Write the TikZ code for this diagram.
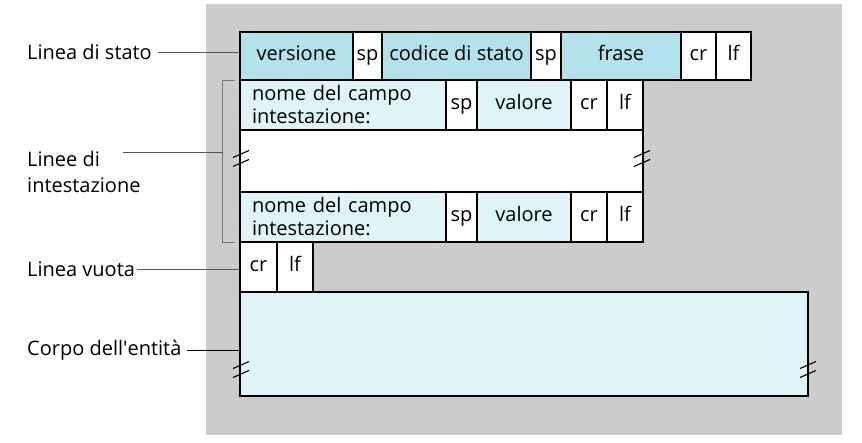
\documentclass[tikz,border=0pt]{standalone}
\usepackage{fontspec}
\setmainfont{Open Sans}
\usetikzlibrary{positioning, calc}
\definecolor{statblue}{HTML}{B3E1EC}
\definecolor{hdrblue}{HTML}{E0F3F7}
\definecolor{bggray}{HTML}{CCCCCC}
\definecolor{connGray}{HTML}{555555}
\definecolor{brackGray}{HTML}{777777}

\tikzset{
  cell/.style={draw, line width=1.1pt, inner sep=0pt, outer sep=0pt, font=\fontsize{20}{23}\selectfont},
  txt/.style={text height=14.5pt, text depth=4.5pt},
  statcell/.style={cell, txt, fill=statblue, minimum height=48pt},
  statsep/.style={cell, txt, fill=white, minimum height=48pt},
  hdrcell/.style={cell, fill=hdrblue, minimum height=50pt},
  hdrsep/.style={cell, txt, fill=white, minimum height=50pt},
  lbl/.style={inner sep=0pt, anchor=west, font=\fontsize{20}{26}\selectfont, align=left},
  conn/.style={connGray, line width=0.9pt},
  bracket/.style={brackGray, line width=0.8pt},
  brk/.style={line width=1.1pt},
}

\begin{document}
\begin{tikzpicture}[x=1pt, y=-1pt]
   \useasboundingbox (0,0) rectangle (862,443);
   \fill[bggray] (206,4) rectangle (842,435);

   % status line
   \node[statcell, anchor=north west, minimum width=113pt] (versione) at (240,32) {versione};
   \node[statsep, minimum width=29pt, right=0pt of versione] (sp1) {sp};
   \node[statcell, minimum width=149pt, right=0pt of sp1] (codice) {codice di stato};
   \node[statsep, minimum width=30pt, right=0pt of codice] (sp2) {sp};
   \node[statcell, minimum width=120pt, right=0pt of sp2] (frase) {frase};
   \node[statsep, minimum width=35pt, right=0pt of frase] (cr0) {cr};
   \node[statsep, minimum width=35pt, right=0pt of cr0] (lf0) {lf};

   % header lines
   \node[hdrcell, anchor=north west, minimum width=206pt, text width=182pt, inner xsep=12pt, align=left] (nome1) at (versione.south west) {nome del campo\\intestazione:};
   \node[hdrsep, minimum width=31pt, right=0pt of nome1] (sp3) {sp};
   \node[hdrcell, txt, minimum width=94pt, right=0pt of sp3] (valore1) {valore};
   \node[hdrsep, minimum width=36pt, right=0pt of valore1] (cr1) {cr};
   \node[hdrsep, minimum width=36pt, right=0pt of cr1] (lf1) {lf};

   \node[cell, fill=white, anchor=north west, minimum width=403pt, minimum height=62pt] (blank) at (nome1.south west) {};

   \node[hdrcell, anchor=north west, minimum width=206pt, text width=182pt, inner xsep=12pt, align=left] (nome2) at (blank.south west) {nome del campo\\intestazione:};
   \node[hdrsep, minimum width=31pt, right=0pt of nome2] (sp4) {sp};
   \node[hdrcell, txt, minimum width=94pt, right=0pt of sp4] (valore2) {valore};
   \node[hdrsep, minimum width=36pt, right=0pt of valore2] (cr2) {cr};
   \node[hdrsep, minimum width=36pt, right=0pt of cr2] (lf2) {lf};

   % blank line and body
   \node[hdrsep, anchor=north west, minimum width=37pt] (cr3) at (nome2.south west) {cr};
   \node[hdrsep, minimum width=36pt, right=0pt of cr3] (lf3) {lf};
   \node[cell, fill=hdrblue, anchor=north west, minimum width=568pt, minimum height=104pt] (corpo) at (cr3.south west) {};

   % break marks
   \foreach \x/\y in {241/154, 642/154, 241/365, 808/365} {
      \draw[brk] (\x-8,\y+3.5) -- (\x+8,\y-3.5);
      \draw[brk] (\x-8,\y+12.5) -- (\x+8,\y+5.5);
   }

   % labels
   \node[lbl] (lstato) at (27,52) {Linea di stato};
   \node[lbl, anchor=north west] (lint) at (27,151) {Linee di\\intestazione};
   \node[lbl] (lvuota) at (27,269) {Linea vuota};
   \node[lbl] (lcorpo) at (27,350) {Corpo dell\textquotesingle entità};

   \draw[bracket] ($(nome1.north west)+(-5,0)$) -- ++(-12.5,0) coordinate (bcorner) |- ($(nome2.south west)+(-5,0)$);
   \coordinate (lintc) at (123,152);

   \draw[conn, shorten <=6pt] (lstato.east) -- (lstato.east -| versione.west);
   \draw[conn] (lintc) -- (lintc -| bcorner);
   \draw[conn, shorten <=2pt] (lvuota.east) -- (lvuota.east -| cr3.west);
   \draw[conn, black, shorten <=5pt] (lcorpo.east) -- (lcorpo.east -| corpo.west);
\end{tikzpicture}
\end{document}
